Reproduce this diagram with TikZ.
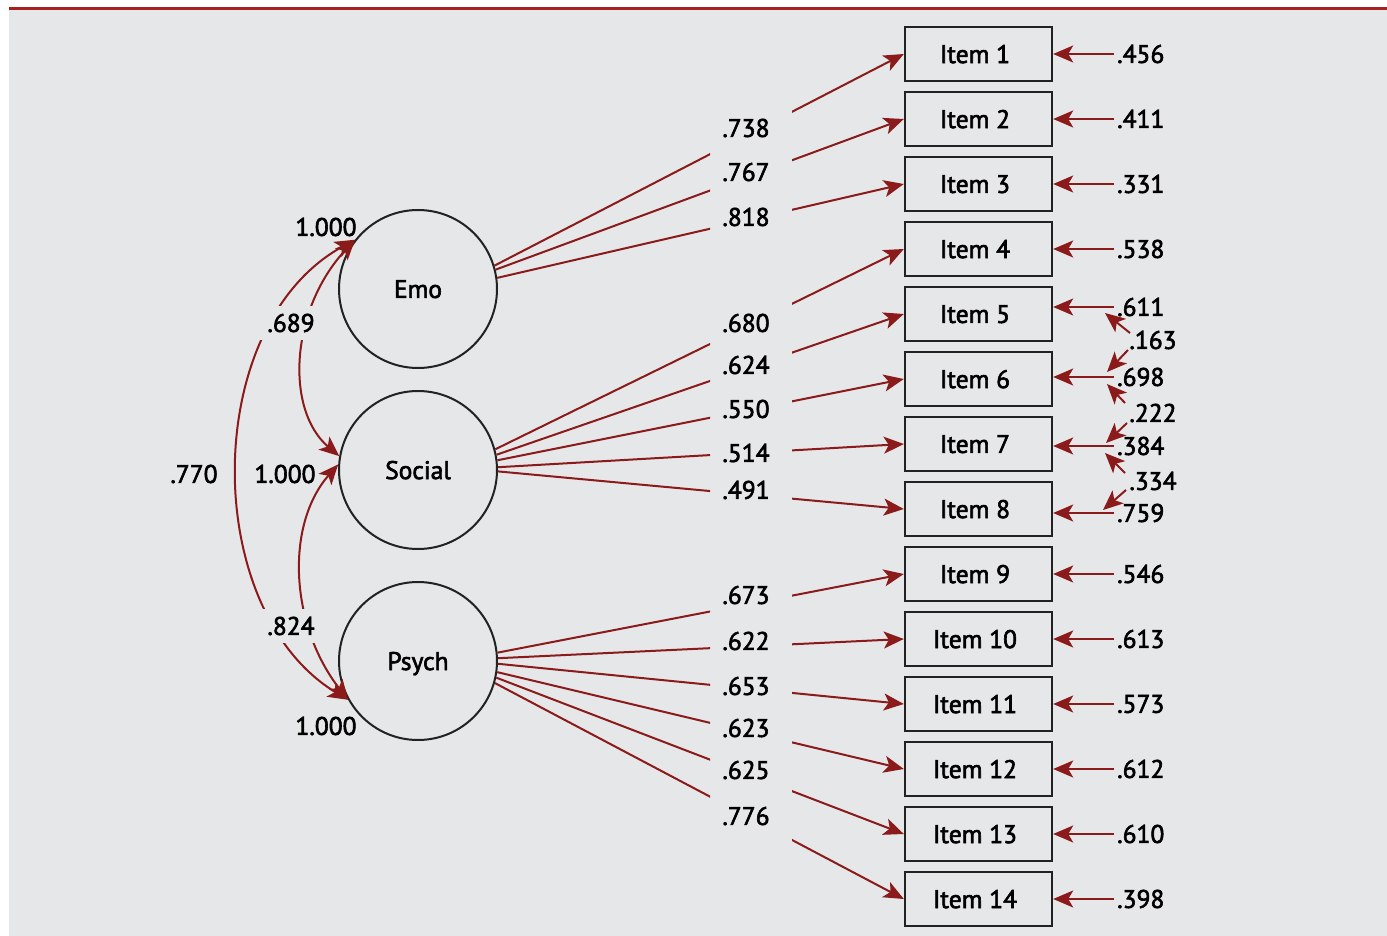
\documentclass[tikz,border=0pt]{standalone}
\usepackage{fontspec}
\setmainfont{PT Sans}[BoldFont={PT Sans},BoldFeatures={FakeBold=2.4}]
\usetikzlibrary{arrows.meta}
\definecolor{bg}{HTML}{E6E7E9}
\definecolor{arr}{HTML}{8B1A1A}
\definecolor{topred}{HTML}{A8201E}
\definecolor{ink}{HTML}{222222}
\begin{document}
\begin{tikzpicture}[x=1pt,y=-1pt,
  every node/.style={font=\fontsize{25.5}{30}\selectfont\bfseries, text=black},
  itembox/.style={draw=ink, line width=2.4pt, minimum width=147pt, minimum height=54pt, inner sep=0pt, text depth=0pt},
  factor/.style={draw=ink, line width=2pt, circle, minimum size=158pt, inner sep=0pt, text depth=0pt},
  tipa/.tip={Stealth[length=20pt,width=17pt,inset=5pt]},
  ld/.style={draw=arr, line width=2pt, -tipa},
  cov/.style={draw=arr, line width=2pt, tipa-tipa},
  gaplabel/.style={fill=bg, inner xsep=7pt, inner ysep=8pt}
]
\useasboundingbox (0,0) rectangle (1387,936);
\fill[white] (0,0) rectangle (1387,936);
\fill[bg] (9,10) rectangle (1387,936);
\draw[topred, line width=3.5pt] (9,8.5) -- (1387,8.5);

% factors
\node[factor] (emo) at (418,289) {Emo};
\node[factor] (social) at (418,470) {Social};
\node[factor] (psych) at (418,661) {Psych};

% items
\foreach \i in {1,...,14}
  \node[itembox] (it\i) at (978.5,{54+65*(\i-1)}) {\hspace*{-7pt}Item \i};

% loadings (lines broken around their labels)
\begin{scope}
  \clip (0,0) rectangle (710,936) (792,0) rectangle (1387,936);
  \foreach \i/\f/\a in {1/emo/17.7, 2/emo/14, 3/emo/8.7,
                        4/social/15.4, 5/social/11.7, 6/social/7.3, 7/social/2.9, 8/social/-1.5,
                        9/psych/6.5, 10/psych/2.2, 11/psych/-2.9, 12/psych/-8, 13/psych/-12.4, 14/psych/-16.2}
    \draw[ld] (\f.\a) -- (it\i.west);
\end{scope}
\foreach \i/\v/\y in {1/.738/128, 2/.767/172, 3/.818/217,
                      4/.680/323, 5/.624/365, 6/.550/409, 7/.514/453, 8/.491/490,
                      9/.673/595, 10/.622/641, 11/.653/686, 12/.623/728, 13/.625/770, 14/.776/816}
  \node (l\i) at (746,\y) {\v};

% error terms
\foreach \i/\v/\y in {1/.456/54, 2/.411/119, 3/.331/184, 4/.538/249, 5/.611/307, 6/.698/377, 7/.384/446,
                      8/.759/513, 9/.546/574, 10/.613/639, 11/.573/704, 12/.612/769, 13/.610/834, 14/.398/899}
{
  \node[anchor=west, inner sep=0pt] (ev\i) at (1117,\y) {\v};
  \coordinate (es\i) at (1114,\y);
  \draw[ld] (es\i) -- (it\i.east |- es\i);
}

% error covariances
\node (c163) at (1153,340) {.163};
\node (c222) at (1153,413) {.222};
\node (c334) at (1153,481) {.334};
\coordinate (a1s) at (1130,333); \coordinate (a1e) at (1105,313);
\coordinate (a2s) at (1128,350); \coordinate (a2e) at (1107,372);
\coordinate (b1s) at (1125,403); \coordinate (b1e) at (1107,384);
\coordinate (b2s) at (1127,423); \coordinate (b2e) at (1106,443);
\coordinate (d1s) at (1125,473); \coordinate (d1e) at (1105,453);
\coordinate (d2s) at (1126,490); \coordinate (d2e) at (1103,510);
\foreach \s/\e in {a1s/a1e, a2s/a2e, b1s/b1e, b2s/b2e, d1s/d1e, d2s/d2e}
  \draw[ld] (\s) -- (\e);

% factor correlations
\draw[cov] (emo.142) .. controls (290,310) and (285,410) .. (social.170);
\draw[cov] (emo.142) .. controls (200,325) and (200,610) .. (psych.209);
\draw[cov] (social.176) .. controls (285,525) and (290,625) .. (psych.209);
\node[gaplabel] (r689) at (291,323) {.689};
\node[gaplabel] (r824) at (291,626) {.824};
\node (r770) at (194,474) {.770};
\node (v1) at (326,227) {1.000};
\node (v2) at (285,474) {1.000};
\node (v3) at (326,726) {1.000};
\end{tikzpicture}
\end{document}
